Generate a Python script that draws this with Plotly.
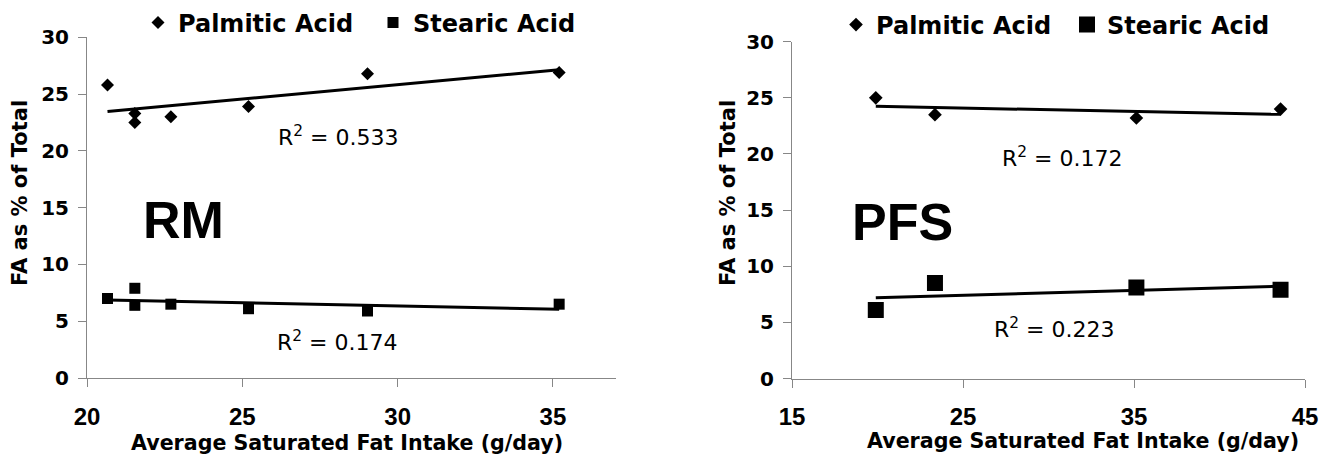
import numpy as np
import plotly.graph_objects as go

W, H = 1328, 459
OFF = 8  # the page body margin offsets the figure by 8 px

# ---- data ----
rm_x = [20.66, 21.54, 21.54, 22.7, 25.2, 29.03, 35.2]
rm_palmitic = [25.8, 23.3, 22.5, 23.0, 23.9, 26.8, 26.9]
rm_stearic = [7.0, 7.9, 6.4, 6.5, 6.1, 5.9, 6.5]

pfs_x = [19.9, 23.36, 35.14, 43.57]
pfs_palmitic = [25.0, 23.5, 23.2, 24.0]
pfs_stearic = [6.1, 8.5, 8.1, 7.9]

r2_labels = {"rm_pal": "0.533", "rm_ste": "0.174", "pfs_pal": "0.172", "pfs_ste": "0.223"}

rm_xticks = [20, 25, 30, 35]
pfs_xticks = [15, 25, 35, 45]
y_ticks = [0, 5, 10, 15, 20, 25, 30]


def px(x):
    return (x - OFF) / W


def py(y):
    return 1 - (y - OFF) / H


def trend(x, y):
    m, b = np.polyfit(x, y, 1)
    xs = np.array([min(x), max(x)])
    return xs, m * xs + b


DV = "DejaVu Sans, Verdana, sans-serif"
AR = "Arial, Liberation Sans, sans-serif"

fig = go.Figure()

panels = [
    (rm_x, rm_palmitic, rm_stearic, "x", "y", "legend", 10, 11),
    (pfs_x, pfs_palmitic, pfs_stearic, "x2", "y2", "legend2", 10.5, 16),
]
for xs, pal, ste, xa, ya, lg, dsz, ssz in panels:
    fig.add_trace(go.Scatter(x=xs, y=pal, mode="markers", name="Palmitic Acid",
                             marker=dict(symbol="diamond", size=dsz, color="black"),
                             xaxis=xa, yaxis=ya, legend=lg))
    fig.add_trace(go.Scatter(x=xs, y=ste, mode="markers", name="Stearic Acid",
                             marker=dict(symbol="square", size=ssz, color="black"),
                             xaxis=xa, yaxis=ya, legend=lg))
    for yy in (pal, ste):
        tx, ty = trend(xs, yy)
        fig.add_trace(go.Scatter(x=tx, y=ty, mode="lines", showlegend=False,
                                 line=dict(color="black", width=3),
                                 xaxis=xa, yaxis=ya, hoverinfo="skip"))

axis_common = dict(showgrid=False, zeroline=False, showline=True, linecolor="#878787",
                   linewidth=1, ticks="outside", ticklen=8, tickcolor="#878787")
xfont = dict(family=AR, size=24, color="black", weight="bold")
yfont = dict(family=DV, size=20, color="black", weight="bold")
legfont = dict(family=DV, size=24, color="black", weight="bold")

fig.update_layout(
    width=W, height=H,
    margin=dict(l=0, r=0, t=0, b=0, autoexpand=False),
    paper_bgcolor="white", plot_bgcolor="white",
    font=dict(family=DV, color="black"),
    xaxis=dict(domain=[px(87), px(616)], range=[20, 37.03], tickvals=rm_xticks,
               anchor="y", ticklabelstandoff=9, tickfont=xfont, **axis_common),
    yaxis=dict(domain=[py(378), py(37.3)], range=[0, 30], tickvals=y_ticks,
               anchor="x", ticklabelstandoff=5, tickfont=yfont, **axis_common),
    xaxis2=dict(domain=[px(792), px(1305)], range=[15, 45], tickvals=pfs_xticks,
                anchor="y2", ticklabelstandoff=9, tickfont=xfont, **axis_common),
    yaxis2=dict(domain=[py(378.5), py(41.7)], range=[0, 30], tickvals=y_ticks,
                anchor="x2", ticklabelstandoff=5, tickfont=yfont, **axis_common),
    legend=dict(orientation="h", x=px(138), y=py(23), xanchor="left", yanchor="middle",
                entrywidth=190, entrywidthmode="pixels",
                font=legfont, bgcolor="rgba(0,0,0,0)", itemclick=False),
    legend2=dict(orientation="h", x=px(836), y=py(25), xanchor="left", yanchor="middle",
                 entrywidth=186, entrywidthmode="pixels",
                 font=legfont, bgcolor="rgba(0,0,0,0)", itemclick=False),
    showlegend=True,
)

ann = []
# axis titles
for cx, cy in ((347, 443), (1083, 441)):
    ann.append(dict(text="Average Saturated Fat Intake (g/day)", x=px(cx), y=py(cy),
                    xref="paper", yref="paper", showarrow=False, xanchor="center", yanchor="middle",
                    font=dict(family=DV, size=20.6, color="black", weight="bold")))
for cx in (20, 728):
    ann.append(dict(text="FA as % of Total", x=px(cx), y=py(193), textangle=-90,
                    xref="paper", yref="paper", showarrow=False, xanchor="center", yanchor="middle",
                    font=dict(family=DV, size=21, color="black", weight="bold")))
# panel labels
ann.append(dict(text="RM", x=px(183), y=py(220), xref="paper", yref="paper", showarrow=False,
                xanchor="center", yanchor="middle",
                font=dict(family=AR, size=52, color="black", weight="bold")))
ann.append(dict(text="PFS", x=px(902), y=py(222), xref="paper", yref="paper", showarrow=False,
                xanchor="center", yanchor="middle",
                font=dict(family=AR, size=52, color="black", weight="bold")))
# R^2 labels
for key, cx, cy in (("rm_pal", 338, 136), ("rm_ste", 337, 341),
                    ("pfs_pal", 1062, 157), ("pfs_ste", 1054, 328)):
    ann.append(dict(text="R<sup>2</sup> = " + r2_labels[key], x=px(cx), y=py(cy),
                    xref="paper", yref="paper", showarrow=False, xanchor="center", yanchor="middle",
                    font=dict(family=DV, size=22, color="black")))
fig.update_layout(annotations=ann)

fig.write_html("out.html")
